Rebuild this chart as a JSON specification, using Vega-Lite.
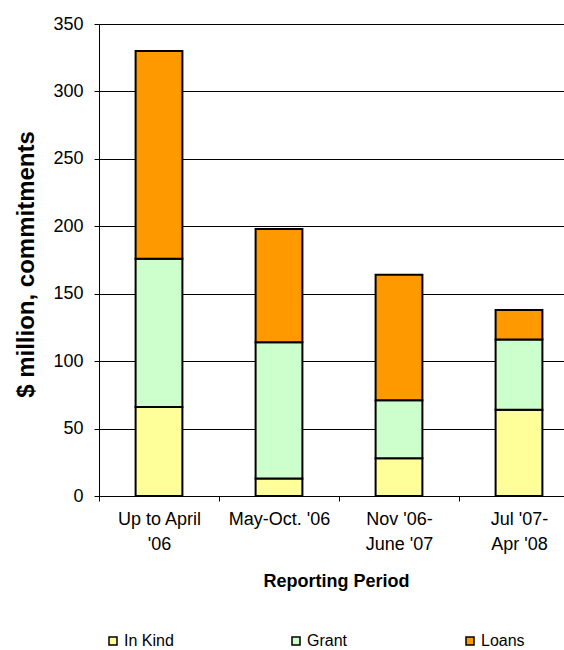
{
  "$schema": "https://vega.github.io/schema/vega-lite/v6.json",
  "autosize": {"type": "none"},
  "padding": {"left": 99, "top": 24, "right": 0, "bottom": 154},
  "width": 465,
  "height": 472,
  "background": "#ffffff",
  "config": {
    "font": "Liberation Sans",
    "view": {"stroke": null},
    "axis": {"labelColor": "#000", "titleColor": "#000", "domainColor": "#000", "tickColor": "#000", "gridColor": "#000"}
  },
  "data": {
    "values": [
      {"period": "Up to April\n'06", "type": "In Kind", "amount": 66},
      {"period": "Up to April\n'06", "type": "Grant", "amount": 110},
      {"period": "Up to April\n'06", "type": "Loans", "amount": 154},
      {"period": "May-Oct. '06", "type": "In Kind", "amount": 13},
      {"period": "May-Oct. '06", "type": "Grant", "amount": 101},
      {"period": "May-Oct. '06", "type": "Loans", "amount": 84},
      {"period": "Nov '06-\nJune '07", "type": "In Kind", "amount": 28},
      {"period": "Nov '06-\nJune '07", "type": "Grant", "amount": 43},
      {"period": "Nov '06-\nJune '07", "type": "Loans", "amount": 93},
      {"period": "Jul '07-\nApr '08", "type": "In Kind", "amount": 64},
      {"period": "Jul '07-\nApr '08", "type": "Grant", "amount": 52},
      {"period": "Jul '07-\nApr '08", "type": "Loans", "amount": 22}
    ]
  },
  "transform": [
    {"calculate": "indexof(['In Kind', 'Grant', 'Loans'], datum.type)", "as": "stackOrder"}
  ],
  "mark": {"type": "bar", "stroke": "#000", "strokeWidth": 2, "width": {"band": 0.39}},
  "encoding": {
    "x": {
      "field": "period",
      "type": "nominal",
      "sort": null,
      "scale": {"range": [0, 480], "paddingInner": 0, "paddingOuter": 0},
      "axis": {
        "title": "Reporting Period",
        "titleFontSize": 18,
        "titleFontWeight": "bold",
        "titleX": 237,
        "titleY": 90,
        "titleBaseline": "alphabetic",
        "labelAngle": 0,
        "labelFontSize": 18,
        "labelLineHeight": 25,
        "labelPadding": 9,
        "labelExpr": "split(datum.label, '\\n')",
        "tickSize": 5,
        "tickOffset": -60,
        "labelOffset": 60,
        "domainWidth": 1
      }
    },
    "y": {
      "field": "amount",
      "type": "quantitative",
      "stack": "zero",
      "scale": {"domain": [0, 350], "nice": false},
      "axis": {
        "title": "$ million, commitments",
        "titleFontSize": 24,
        "titleFontWeight": "bold",
        "titleAngle": -90,
        "titleAlign": "center",
        "titleBaseline": "alphabetic",
        "titleX": -66,
        "titleY": 240,
        "values": [0, 50, 100, 150, 200, 250, 300, 350],
        "labelFontSize": 18,
        "labelPadding": 11,
        "tickSize": 5,
        "grid": true,
        "gridWidth": 1
      }
    },
    "color": {
      "field": "type",
      "type": "nominal",
      "sort": ["In Kind", "Grant", "Loans"],
      "scale": {"domain": ["In Kind", "Grant", "Loans"], "range": ["#FFFF99", "#CCFFCC", "#FF9900"]},
      "legend": {
        "title": null,
        "orient": "none",
        "direction": "horizontal",
        "columns": 3,
        "legendX": 6,
        "legendY": 609,
        "padding": 0,
        "columnPadding": 114,
        "symbolType": "square",
        "symbolSize": 64,
        "symbolOpacity": 1,
        "labelFontSize": 16,
        "labelColor": "#000",
        "labelOffset": 3,
        "encode": {
          "symbols": {
            "update": {
              "stroke": {"value": "#000"},
              "strokeWidth": {"value": 2},
              "fillOpacity": {"value": 1}
            }
          }
        }
      }
    },
    "order": {"field": "stackOrder", "type": "quantitative", "sort": "ascending"}
  }
}
